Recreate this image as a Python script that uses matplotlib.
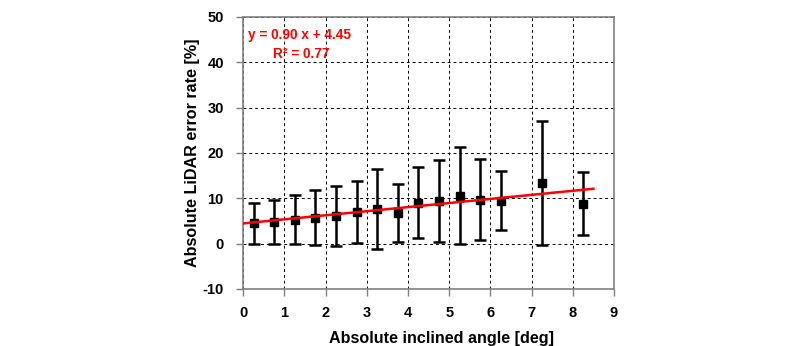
import numpy as np
import matplotlib.pyplot as plt

plt.rcParams['font.family'] = ['Liberation Sans', 'DejaVu Sans']
plt.rcParams['font.weight'] = 'bold'
plt.rcParams['axes.unicode_minus'] = False

# binned angle (bin centres) and error rate mean / std
angle = [0.25, 0.75, 1.25, 1.75, 2.25, 2.75, 3.25, 3.75, 4.25, 4.75,
         5.25, 5.75, 6.25, 7.25, 8.25]
err_mean = [4.5, 4.7, 5.3, 5.7, 6.1, 6.9, 7.7, 6.8, 9.05, 9.4,
            10.5, 9.7, 9.5, 13.35, 8.8]
err_std = [4.5, 4.85, 5.5, 6.1, 6.7, 6.8, 8.8, 6.4, 7.8, 9.0,
           10.7, 8.9, 6.5, 13.65, 7.0]

slope = 0.90
intercept = 4.45
r2 = 0.77
fit_x = [0, 8.5]

xticks = list(range(0, 10))
yticks = list(range(-10, 60, 10))


def main():
    fig = plt.figure(figsize=(8, 3.46), dpi=100)
    ax = fig.add_axes([0.304, 0.165, 0.4635, 0.786])

    ax.errorbar(angle, err_mean, yerr=err_std, fmt='s', color='black',
                ms=6, elinewidth=1.8, capsize=4, capthick=1.8, zorder=3)

    fx = np.array(fit_x)
    ax.plot(fx, slope * fx + intercept, color='red', lw=1.8, zorder=4)

    ax.text(0.12, 46.0, 'y = %.2f x + %.2f' % (slope, intercept),
            color='red', fontsize=9.8, fontweight='bold', va='center')
    ax.text(0.72, 41.8, 'R\u00b2 = %.2f' % r2,
            color='red', fontsize=9.8, fontweight='bold', va='center')

    ax.set_xlim(0, 9)
    ax.set_ylim(-10, 50)
    ax.set_xticks(xticks)
    ax.set_yticks(yticks)
    ax.grid(True, color='black', ls=(0, (3, 3)), lw=0.7)
    ax.set_axisbelow(True)

    for s in ax.spines.values():
        s.set_color('#808080')
        s.set_linewidth(1.2)
    ax.tick_params(direction='out', length=5, width=1, color='#808080',
                   labelsize=10.5)
    ax.tick_params(axis='y', pad=9)
    ax.tick_params(axis='x', pad=7)
    for lab in ax.get_xticklabels() + ax.get_yticklabels():
        lab.set_fontweight('bold')

    ax.set_xlabel('Absolute inclined angle [deg]', fontsize=11.6,
                  fontweight='bold', labelpad=5)
    ax.set_ylabel('Absolute LiDAR error rate [%]', fontsize=11.6,
                  fontweight='bold', labelpad=2)
    ax.xaxis.set_label_coords(0.534, -0.155)

    fig.savefig('out.png', dpi=100)


if __name__ == '__main__':
    main()
